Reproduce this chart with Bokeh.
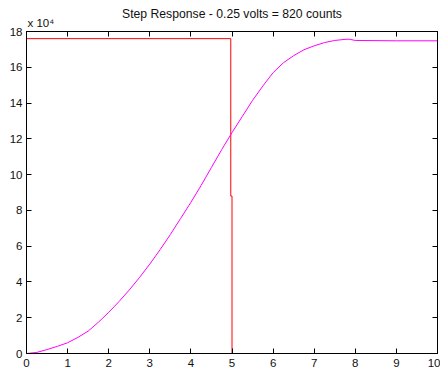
from bokeh.plotting import figure
from bokeh.models import Range1d, LinearAxis, FixedTicker, Title
from bokeh.embed import file_html
from bokeh.resources import INLINE

# Data (response in units of 1e4 counts)
title_text = "Step Response - 0.25 volts = 820 counts"
scale_text = "x 10\u2074"
resp_t = [0, 0.25, 0.5, 0.75, 1, 1.25, 1.5, 1.75, 2, 2.25, 2.5, 2.75, 3, 3.25,
          3.5, 3.75, 4, 4.25, 4.5, 4.75, 5, 5.25, 5.5, 5.75, 6, 6.25, 6.5, 6.75,
          7, 7.25, 7.5, 7.75, 7.85, 8.0, 9, 10]
resp_v = [0, 0.06, 0.22, 0.4, 0.6, 0.9, 1.25, 1.75, 2.3, 2.9, 3.55, 4.25, 5.0,
          5.8, 6.65, 7.55, 8.45, 9.4, 10.4, 11.4, 12.35, 13.25, 14.15, 14.95,
          15.7, 16.25, 16.65, 16.98, 17.2, 17.38, 17.5, 17.56, 17.57, 17.5,
          17.48, 17.48]
cmd_t = [0, 4.97, 4.97, 5.0, 5.0]
cmd_v = [17.6, 17.6, 8.8, 8.8, 0]
x_ticks = [0, 1, 2, 3, 4, 5, 6, 7, 8, 9, 10]
y_ticks = [0, 2, 4, 6, 8, 10, 12, 14, 16, 18]

FONT = "Liberation Sans"

p = figure(width=440, height=371, output_backend="svg", toolbar_location=None,
           x_range=Range1d(0, 10), y_range=Range1d(0, 18), title=None,
           min_border_left=26, min_border_right=3, min_border_top=31,
           min_border_bottom=18)
p.background_fill_color = "white"
p.border_fill_color = "white"
p.outline_line_color = "black"
p.grid.visible = False

for ax in (p.xaxis[0], p.yaxis[0]):
    ax.major_tick_in = 5
    ax.major_tick_out = 0
    ax.minor_tick_line_color = None
    ax.axis_line_color = "black"
    ax.major_tick_line_color = "black"
    ax.major_label_text_font = FONT
    ax.major_label_text_font_size = "11.5px"
    ax.major_label_text_color = "#111111"
p.xaxis[0].major_label_standoff = 5
p.yaxis[0].major_label_standoff = 4
p.xaxis[0].ticker = FixedTicker(ticks=x_ticks)
p.yaxis[0].ticker = FixedTicker(ticks=y_ticks)

top = LinearAxis(ticker=FixedTicker(ticks=x_ticks),
                 major_label_overrides={t: "" for t in x_ticks})
right = LinearAxis(ticker=FixedTicker(ticks=y_ticks),
                   major_label_overrides={t: "" for t in y_ticks})
for ax in (top, right):
    ax.major_tick_in = 5
    ax.major_tick_out = 0
    ax.minor_tick_line_color = None
    ax.major_label_standoff = 0
    ax.major_label_text_font_size = "11.5px"
    ax.axis_line_color = "black"
    ax.major_tick_line_color = "black"
    ax.major_tick_line_width = 1
p.add_layout(top, "above")
p.add_layout(right, "right")

p.line(cmd_t, cmd_v, line_color="#ff0000", line_width=1)
p.line(resp_t, resp_v, line_color="#ff00ff", line_width=1)

p.add_layout(Title(text=scale_text, align="left", offset=1, standoff=5,
                   text_font=FONT, text_font_size="11.5px",
                   text_font_style="normal", text_color="#111111"), "above")
p.add_layout(Title(text=title_text, align="center", standoff=-16,
                   text_font=FONT, text_font_size="12.2px",
                   text_font_style="normal", text_color="#111111"), "above")

open("out.html", "w").write(file_html(p, INLINE))
